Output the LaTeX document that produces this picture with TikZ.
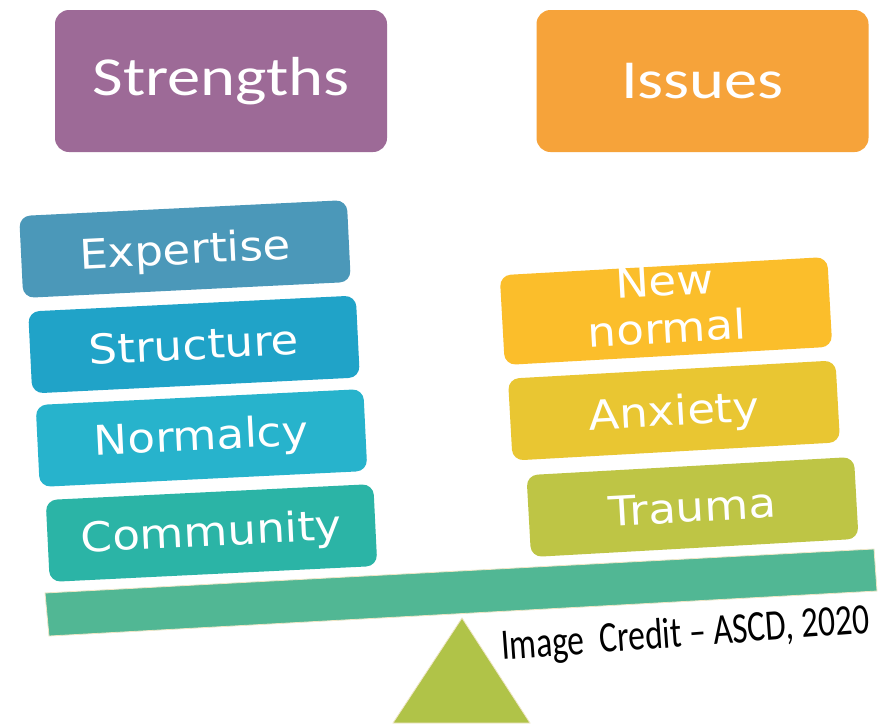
\documentclass[tikz,border=0pt]{standalone}
\usepackage{fontspec}
\usepackage{graphicx}
\setmainfont{DejaVu Sans}
\newfontfamily\calib{Carlito}
\newfontfamily\boxfont{DejaVu Sans}
\definecolor{strengthc}{HTML}{9D6A97}
\definecolor{issuesc}{HTML}{F6A33A}
\definecolor{expertc}{HTML}{4B98B9}
\definecolor{structc}{HTML}{20A3C8}
\definecolor{normalc}{HTML}{27B3CC}
\definecolor{commc}{HTML}{2BB4A6}
\definecolor{newnc}{HTML}{FBBE2B}
\definecolor{anxc}{HTML}{E9C632}
\definecolor{traumac}{HTML}{BEC545}
\definecolor{beamc}{HTML}{51B794}
\definecolor{fulcc}{HTML}{B0C348}
\definecolor{rimc}{HTML}{EFE6C6}
\begin{document}
\begin{tikzpicture}[x=1pt,y=1pt]
\tikzset{
  headbox/.style={rounded corners=14pt, minimum width=332pt, minimum height=142pt,
    inner sep=0pt, text=white, font=\calib\fontsize{55}{60}\selectfont},
  itembox/.style={rounded corners=11pt, minimum width=328pt, minimum height=82pt,
    inner sep=0pt, text=white, font=\boxfont\fontsize{41}{47}\selectfont,
    text height=30pt, text depth=0pt},
  leftitem/.style={itembox, rotate=2.8},
  rightitem/.style={itembox, rotate=3.2},
}
\useasboundingbox (0,-723) rectangle (891,0);
\fill[white] (0,-723) rectangle (891,0);
% headers
\node[headbox, fill=strengthc] (strengths) at (221,-81) {\scalebox{1.21}[1]{Strengths}};
\node[headbox, fill=issuesc] (issues) at (702.5,-81) {\scalebox{1.21}[1]{Issues}};
% left column
\node[leftitem, fill=expertc] (expertise) at (185,-249) {\scalebox{1.1}[1]{Expertise}};
\node[leftitem, fill=structc] (structure) at (194,-344.5) {\scalebox{1.1}[1]{Structure}};
\node[leftitem, fill=normalc, text height=27pt, text depth=3pt] (normalcy) at (201.5,-438) {\scalebox{1.1}[1]{Normalcy}};
\node[leftitem, fill=commc, text height=28pt, text depth=2pt] (community) at (211.5,-533) {\scalebox{1.1}[1]{Community}};
% right column
\node[rightitem, fill=newnc, align=center, text height=, text depth=] (newnormal) at (666,-311) {\scalebox{1.1}[1]{New}\\\scalebox{1.1}[1]{normal}\rule[-13pt]{0pt}{0pt}};
\node[rightitem, fill=anxc] (anxiety) at (674,-410.5) {\scalebox{1.1}[1]{Anxiety}};
\node[rightitem, fill=traumac] (trauma) at (692.5,-507) {\scalebox{1.1}[1]{Trauma}};
% beam and fulcrum
\filldraw[fill=beamc, draw=rimc, line width=0.8pt] (45,-593) -- (874,-549) -- (877,-591) -- (49,-636) -- cycle;
\filldraw[fill=fulcc, draw=rimc, line width=0.8pt] (462,-618) -- (530,-723) -- (393,-723) -- cycle;
% credit
\node[anchor=base west, rotate=4.2, inner sep=0pt, text=black, font=\calib\fontsize{43.5}{48}\selectfont] (credit) at (502,-660) {\scalebox{0.77}[1]{Image~~Credit – ASCD, 2020}};
\end{tikzpicture}
\end{document}
